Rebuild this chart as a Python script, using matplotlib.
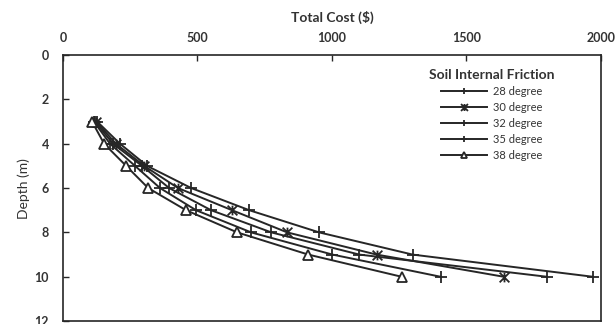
import matplotlib.pyplot as plt
from matplotlib.path import Path

depth = [3, 4, 5, 6, 7, 8, 9, 10]

# total cost ($) per soil internal friction angle
cost_28 = [127, 212, 313, 477, 693, 953, 1300, 1970]
cost_30 = [123, 197, 302, 428, 629, 834, 1166, 1639]
cost_32 = [119, 186, 294, 395, 551, 775, 1102, 1799]
cost_35 = [115, 175, 268, 361, 495, 700, 1002, 1404]
cost_38 = [108, 153, 235, 317, 458, 648, 912, 1259]

labels = ["28 degree", "30 degree", "32 degree", "35 degree", "38 degree"]
x_ticks = [0, 500, 1000, 1500, 2000]
y_ticks = [0, 2, 4, 6, 8, 10, 12]

plt.rcParams["font.family"] = ["Lato", "DejaVu Sans"]
txt = "#333333"
ln = "#262626"

# excel-like star marker: an X with a vertical bar
star = Path([(-1, -1), (1, 1), (-1, 1), (1, -1), (0, -1), (0, 1)],
            [Path.MOVETO, Path.LINETO, Path.MOVETO, Path.LINETO, Path.MOVETO, Path.LINETO])

fig = plt.figure(figsize=(6.15, 3.24), dpi=100)
ax = fig.add_axes([0.1024, 0.009, 0.8746, 0.821])

series = [cost_28, cost_30, cost_32, cost_35, cost_38]
markers = ["+", star, "+", "+", "^"]
for vals, lab, mk in zip(series, labels, markers):
    kw = dict(color=ln, lw=1.4, marker=mk, markersize=8, markeredgewidth=1.3, label=lab)
    if mk == "^":
        kw.update(markerfacecolor="white", markersize=7.5)
    if mk is star:
        kw.update(markersize=7)
    ax.plot(vals, depth, **kw)

ax.set_xlim(0, 2000)
ax.set_ylim(12, 0)
ax.set_xticks(x_ticks)
ax.set_yticks(y_ticks)
ax.xaxis.tick_top()
ax.xaxis.set_label_position("top")
ax.tick_params(axis="both", direction="in", length=4, width=1, colors=ln,
               labelcolor=txt, labelsize=9)
ax.tick_params(axis="x", pad=8)
ax.tick_params(axis="y", pad=10)
for lab in ax.get_xticklabels() + ax.get_yticklabels():
    lab.set_fontweight("bold")
for s in ax.spines.values():
    s.set_color(ln)
    s.set_linewidth(1.2)

ax.set_xlabel("Total Cost ($)", fontsize=10, fontweight="bold", color=txt, labelpad=7)
ax.set_ylabel("Depth (m)", fontsize=10, color=txt, labelpad=3)

leg = ax.legend(loc="upper left", bbox_to_anchor=(0.672, 0.965), frameon=False,
                fontsize=8, title="Soil Internal Friction", handlelength=4.2,
                labelspacing=0.45, handletextpad=0.5, borderaxespad=0)
leg.get_title().set_fontweight("bold")
leg.get_title().set_fontsize(10)
leg.get_title().set_color(txt)
for t in leg.get_texts():
    t.set_color(txt)
for h in leg.legend_handles:
    h.set_markersize(5)

fig.savefig("out.png", dpi=100)
